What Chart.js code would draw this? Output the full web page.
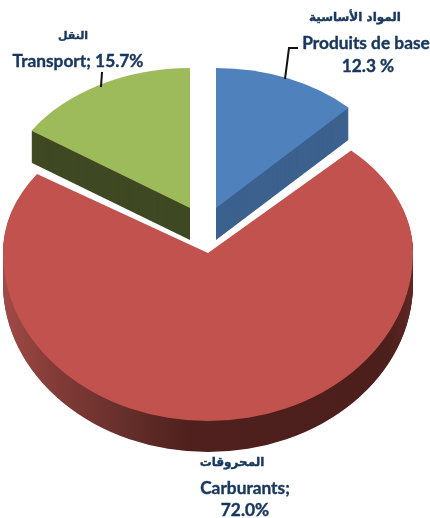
<!DOCTYPE html>
<html>
<head>
<meta charset="utf-8">
<style>html,body{margin:0;padding:0;background:#fff}canvas{display:block}</style>
<script src="https://cdn.jsdelivr.net/npm/chart.js@4"></script>
</head>
<body>
<canvas id="c" width="430" height="518"></canvas>
<script>
const categories = ["Produits de base", "Carburants", "Transport"];
const shares = [12.3, 72.0, 15.7];
const topColors = ["#4f81bd", "#c2524e", "#9dbb5b"];
const wallColors = ["#3c618e", null, "#3f4923"];
const labelLines = [
  {t:"المواد الأساسية", x:355, y:18, ar:true},
  {t:"Produits de base", x:366, y:43},
  {t:"12.3 %", x:368, y:66},
  {t:"النقل", x:73, y:36, ar:true, size:11},
  {t:"Transport; 15.7%", x:78, y:61},
  {t:"المحروقات", x:232, y:463, ar:true},
  {t:"Carburants;", x:245, y:488},
  {t:"72.0%", x:245, y:510}
];
// perspective view for each slice: apex position, radii (far half, near half), wall depth
const views = [
  {cx:216, cy:208, rx:190, ryFar:140, ryNear:140, depth:32},
  {cx:208, cy:253, rx:205, ryFar:143, ryNear:168, depth:31},
  {cx:190, cy:208, rx:190, ryFar:140, ryNear:140, depth:32}
];
const drawOrder = [1, 0, 2];
const leaders = [
  [[285,79],[289,48],[298,48]],
  [[101,87],[102,72]]
];

function slicePath(ctx, arc, v, dy) {
  const y = v.cy + dy;
  ctx.beginPath();
  ctx.moveTo(v.cx, y);
  // split the rim where it crosses the horizontal axis: far half and near half differ
  const cuts = [-Math.PI, 0, Math.PI, 2 * Math.PI];
  let a = arc.startAngle;
  for (const c of cuts) {
    if (c <= a) continue;
    const b = Math.min(c, arc.endAngle);
    const near = Math.sin((a + b) / 2) > 0;
    ctx.ellipse(v.cx, y, v.rx, near ? v.ryNear : v.ryFar, 0, a, b);
    a = b;
    if (a >= arc.endAngle) break;
  }
  ctx.closePath();
}

const pie3d = {
  id: "pie3d",
  beforeDatasetDraw(chart, args) {
    const ctx = chart.ctx;
    const arcs = chart.getDatasetMeta(args.index).data;
    ctx.save();
    const redWall = ctx.createLinearGradient(0, 0, 430, 0);
    redWall.addColorStop(0, "#a34b47");
    redWall.addColorStop(0.12, "#843c38");
    redWall.addColorStop(0.28, "#67302c");
    redWall.addColorStop(0.44, "#4f201d");
    redWall.addColorStop(0.9, "#4c1f1c");
    redWall.addColorStop(1, "#6a2c29");
    for (const i of drawOrder) {
      const arc = arcs[i], v = views[i];
      if (i !== 1) {
        slicePath(ctx, arc, v, v.depth);
        ctx.strokeStyle = "#ffffff";
        ctx.lineWidth = 4;
        ctx.lineJoin = "round";
        ctx.stroke();
      }
      ctx.fillStyle = wallColors[i] || redWall;
      for (let d = v.depth; d > 0; d--) {
        slicePath(ctx, arc, v, d);
        ctx.fill();
      }
      slicePath(ctx, arc, v, 0);
      ctx.fillStyle = topColors[i];
      ctx.fill();
    }
    ctx.restore();
    return false;
  },
  afterDraw(chart) {
    const ctx = chart.ctx;
    ctx.save();
    ctx.strokeStyle = "#111111";
    ctx.lineWidth = 2;
    for (const l of leaders) {
      ctx.beginPath();
      l.forEach((p, k) => k ? ctx.lineTo(p[0], p[1]) : ctx.moveTo(p[0], p[1]));
      ctx.stroke();
    }
    ctx.fillStyle = "#17375e";
    ctx.strokeStyle = "#17375e";
    ctx.lineWidth = 0.4;
    ctx.textAlign = "center";
    ctx.textBaseline = "middle";
    for (const l of labelLines) {
      ctx.font = l.ar ? 'bold ' + (l.size || 12) + 'px "DejaVu Sans"' : 'bold 17.3px Lato';
      ctx.direction = l.ar ? "rtl" : "ltr";
      ctx.fillText(l.t, l.x, l.y);
      ctx.strokeText(l.t, l.x, l.y);
    }
    ctx.restore();
  }
};

new Chart(document.getElementById("c"), {
  type: "pie",
  data: {
    labels: categories,
    datasets: [{ data: shares, backgroundColor: topColors, borderWidth: 0 }]
  },
  options: {
    responsive: false,
    animation: false,
    layout: { padding: 0 },
    plugins: { legend: { display: false }, tooltip: { enabled: false } }
  },
  plugins: [pie3d]
});
</script>
</body>
</html>
